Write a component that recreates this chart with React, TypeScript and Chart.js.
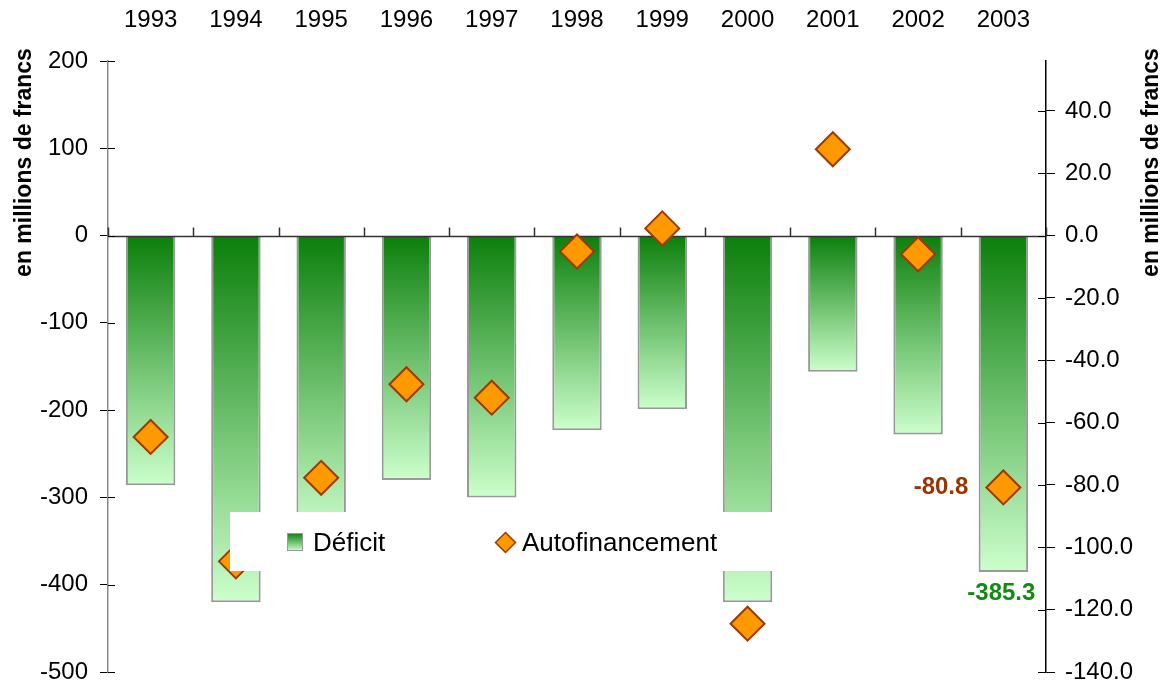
import React, { useEffect, useRef } from 'react';
import { Chart, registerables } from 'chart.js';

Chart.register(...registerables);

const years = ['1993', '1994', '1995', '1996', '1997', '1998', '1999', '2000', '2001', '2002', '2003'];
const deficit = [-286, -420, -345, -280, -300, -223, -199, -420, -156, -228, -385.3];
const autofinancement = [-64.6, -104.5, -77.7, -47.7, -52.0, -5.1, 2.3, -124.5, 27.7, -6.0, -80.8];
const rightTicks = [-140, -120, -100, -80, -60, -40, -20, 0, 20, 40];
const axisTitle = 'en millions de francs';
const legendLabels = ['Déficit', 'Autofinancement'];
const labelledIndex = 10;

const FONT = "'Liberation Sans', Arial, Helvetica, sans-serif";
const DARK_GREEN = '#0b7f0b';
const LIGHT_GREEN = '#ccffcc';
const ORANGE = '#ff9900';
const BROWN = '#9c3a00';

export default function App() {
  const ref = useRef<HTMLCanvasElement>(null);

  useEffect(() => {
    const canvas = ref.current;
    if (!canvas) return;

    const overlay = {
      id: 'overlay',
      afterDatasetDraw(chart: any, args: any) {
        if (args.index !== 0) return;
        const { ctx, chartArea, scales } = chart;
        const y0 = Math.round(scales.y.getPixelForValue(0)) + 0.5;
        const x = scales.x;
        const half = (x.getPixelForValue(1) - x.getPixelForValue(0)) / 2;
        ctx.save();
        ctx.strokeStyle = '#333';
        ctx.lineWidth = 1.5;
        ctx.beginPath();
        ctx.moveTo(chartArea.left, y0);
        ctx.lineTo(chartArea.right, y0);
        for (let i = 0; i <= years.length; i++) {
          const bx = Math.round(x.getPixelForValue(i) - half) + 0.5;
          ctx.moveTo(bx, y0);
          ctx.lineTo(bx, y0 - 9);
        }
        ctx.stroke();
        ctx.lineWidth = 1;
        ctx.strokeStyle = '#000';
        ctx.beginPath();
        scales.y.ticks.forEach((t: any) => {
          const py = Math.round(scales.y.getPixelForValue(t.value)) + 0.5;
          ctx.moveTo(chartArea.left, py);
          ctx.lineTo(chartArea.left + 7, py);
        });
        scales.y1.ticks.forEach((t: any) => {
          const py = Math.round(scales.y1.getPixelForValue(t.value)) + 0.5;
          ctx.moveTo(chartArea.right, py);
          ctx.lineTo(chartArea.right - 8, py);
        });
        ctx.stroke();
        ctx.restore();
      },
      afterDraw(chart: any) {
        const { ctx } = chart;
        ctx.save();
        ctx.font = `bold 23px ${FONT}`;
        ctx.fillStyle = '#000';
        ctx.textAlign = 'center';
        ctx.textBaseline = 'middle';
        [25, 1152].forEach((cx) => {
          ctx.save();
          ctx.translate(cx, 162.5);
          ctx.rotate(-Math.PI / 2);
          ctx.fillText(axisTitle, 0, 0);
          ctx.restore();
        });

        const barEl = chart.getDatasetMeta(0).data[labelledIndex];
        const ptEl = chart.getDatasetMeta(1).data[labelledIndex];
        ctx.font = `bold 24px ${FONT}`;
        ctx.textBaseline = 'middle';
        ctx.fillStyle = '#993300';
        ctx.textAlign = 'right';
        ctx.fillText(autofinancement[labelledIndex].toFixed(1), ptEl.x - 35, ptEl.y);
        ctx.fillStyle = '#138a13';
        ctx.textAlign = 'center';
        ctx.fillText(deficit[labelledIndex].toFixed(1), barEl.x - 2, barEl.y + 21);

        ctx.fillStyle = '#fff';
        ctx.fillRect(230, 512, 546, 59);
        const g = ctx.createLinearGradient(0, 533, 0, 551);
        g.addColorStop(0, DARK_GREEN);
        g.addColorStop(1, LIGHT_GREEN);
        ctx.fillStyle = g;
        ctx.fillRect(287, 533, 16, 18);
        ctx.strokeStyle = '#999';
        ctx.lineWidth = 1;
        ctx.strokeRect(287.5, 533.5, 15, 17);
        ctx.beginPath();
        const dx = 505.5, dy = 542.5, r = 10;
        ctx.moveTo(dx - r, dy);
        ctx.lineTo(dx, dy - r);
        ctx.lineTo(dx + r, dy);
        ctx.lineTo(dx, dy + r);
        ctx.closePath();
        ctx.fillStyle = ORANGE;
        ctx.fill();
        ctx.strokeStyle = BROWN;
        ctx.lineWidth = 1.5;
        ctx.stroke();
        ctx.font = `26px ${FONT}`;
        ctx.fillStyle = '#000';
        ctx.textAlign = 'left';
        ctx.textBaseline = 'alphabetic';
        ctx.fillText(legendLabels[0], 313, 551);
        ctx.fillText(legendLabels[1], 522, 551);
        ctx.restore();
      },
    };

    const tickFont = { family: FONT, size: 24 };

    const chart = new Chart(canvas, {
      type: 'bar',
      data: {
        labels: years,
        datasets: [
          {
            type: 'bar',
            label: legendLabels[0],
            data: deficit,
            yAxisID: 'y',
            order: 2,
            backgroundColor: (c: any) => {
              const ch = c.chart;
              if (!ch.chartArea || c.type !== 'data') return '#5a5';
              const ys = ch.scales.y;
              const p0 = ys.getPixelForValue(0);
              const p1 = ys.getPixelForValue(c.raw);
              const g = ch.ctx.createLinearGradient(0, p0, 0, p1);
              g.addColorStop(0, DARK_GREEN);
              g.addColorStop(1, LIGHT_GREEN);
              return g;
            },
            borderColor: '#999',
            borderWidth: 2,
            borderSkipped: 'start',
            barPercentage: 0.58,
            categoryPercentage: 1,
          },
          {
            type: 'line',
            label: legendLabels[1],
            data: autofinancement,
            yAxisID: 'y1',
            order: 1,
            showLine: false,
            pointStyle: 'rectRot',
            pointRadius: 17,
            pointHoverRadius: 17,
            pointBackgroundColor: ORANGE,
            pointBorderColor: BROWN,
            pointBorderWidth: 2,
          },
        ],
      } as any,
      options: {
        animation: false,
        responsive: false,
        maintainAspectRatio: false,
        layout: { autoPadding: false, padding: { left: 0, right: 0, top: 0, bottom: 9 } },
        plugins: { legend: { display: false }, tooltip: { enabled: false } },
        scales: {
          x: {
            position: 'top',
            offset: true,
            grid: { display: false, drawTicks: false, tickLength: 0 },
            border: { display: false },
            ticks: { font: tickFont, color: '#000', padding: 26, maxRotation: 0, autoSkip: false },
            afterFit: (s: any) => { s.height = 61; s.paddingLeft = 0; s.paddingRight = 0; },
          },
          y: {
            position: 'left',
            min: -500,
            max: 200,
            ticks: { stepSize: 100, font: tickFont, color: '#000', padding: 12 },
            grid: { drawOnChartArea: false, tickLength: 8, color: '#000' },
            border: { color: '#888', width: 1.5 },
            afterFit: (s: any) => { s.width = 108; s.paddingTop = 0; s.paddingBottom = 0; },
          },
          y1: {
            position: 'right',
            min: -140,
            max: 56,
            afterBuildTicks: (s: any) => { s.ticks = rightTicks.map((v) => ({ value: v })); },
            ticks: { font: tickFont, color: '#000', padding: 10, callback: (v: any) => Number(v).toFixed(1) },
            grid: { drawOnChartArea: false, tickLength: 9, color: '#000' },
            border: { color: '#000', width: 1.5 },
            afterFit: (s: any) => { s.width = 118; s.paddingTop = 0; s.paddingBottom = 0; },
          },
        },
      } as any,
      plugins: [overlay],
    });

    return () => chart.destroy();
  }, []);

  return (
    <div style={{ position: 'absolute', left: 0, top: 0, width: 1164, height: 681, background: '#fff' }}>
      <canvas ref={ref} width={1164} height={681} style={{ display: 'block' }} />
    </div>
  );
}
